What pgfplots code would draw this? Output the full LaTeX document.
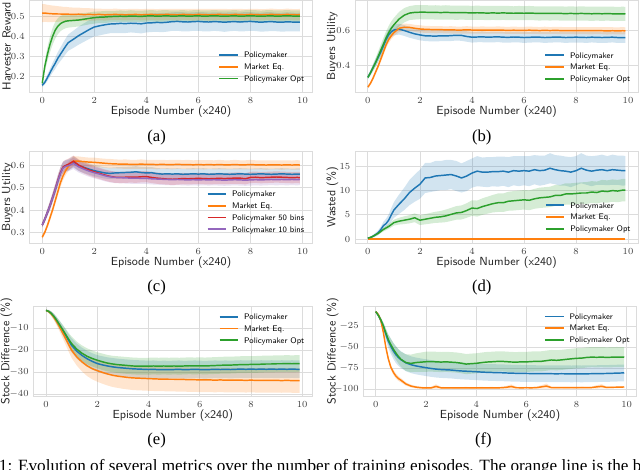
\documentclass[border=0pt]{standalone}
\usepackage{fontspec}
\setmainfont{Liberation Serif}
\usepackage{pgfplots}
\usepackage{pgfplotstable}
\pgfplotsset{compat=1.18}
\usepgfplotslibrary{fillbetween}
\definecolor{tb}{HTML}{1F77B4}
\definecolor{to}{HTML}{FF7F0E}
\definecolor{tg}{HTML}{2CA02C}
\definecolor{tr}{HTML}{D62728}
\definecolor{tp}{HTML}{9467BD}
\definecolor{gridc}{HTML}{DCDCDC}

\pgfplotstableread{
x b bs o os g gs
0.0 .155 .008 .515 .045 .165 .010
0.1 .170 .012 .516 .044 .250 .025
0.2 .193 .016 .514 .043 .310 .035
0.3 .218 .020 .513 .042 .360 .040
0.4 .243 .024 .512 .041 .400 .042
0.5 .265 .028 .512 .040 .430 .042
0.6 .290 .031 .511 .039 .450 .040
0.7 .310 .034 .511 .038 .463 .038
0.8 .330 .037 .510 .037 .470 .036
0.9 .350 .039 .511 .036 .475 .035
1.0 .368 .041 .510 .035 .477 .034
1.2 .385 .043 .509 .034 .479 .033
1.4 .403 .045 .510 .033 .481 .032
1.6 .418 .046 .508 .032 .485 .031
1.8 .433 .047 .509 .031 .489 .030
2.0 .446 .047 .508 .030 .493 .030
2.2 .452 .048 .509 .029 .495 .029
2.4 .457 .047 .507 .029 .496 .030
2.6 .461 .046 .508 .028 .498 .029
2.8 .462 .047 .509 .029 .499 .028
3.0 .464 .048 .508 .028 .500 .029
3.2 .463 .047 .507 .028 .499 .028
3.4 .465 .046 .508 .029 .501 .029
3.6 .464 .047 .509 .028 .500 .028
3.8 .462 .048 .507 .028 .499 .029
4.0 .466 .047 .508 .029 .501 .028
4.2 .467 .046 .509 .028 .502 .029
4.4 .469 .047 .507 .028 .500 .028
4.6 .468 .048 .508 .029 .501 .029
4.8 .470 .047 .509 .028 .502 .028
5.0 .473 .046 .508 .028 .500 .029
5.2 .474 .047 .507 .029 .501 .028
5.4 .472 .048 .509 .028 .502 .029
5.6 .471 .047 .508 .028 .500 .028
5.8 .473 .046 .507 .029 .501 .029
6.0 .474 .047 .509 .028 .502 .028
6.2 .472 .048 .508 .028 .500 .029
6.4 .471 .047 .507 .029 .501 .028
6.6 .473 .046 .508 .028 .502 .029
6.8 .472 .047 .509 .028 .501 .028
7.0 .470 .048 .508 .029 .500 .029
7.2 .472 .047 .507 .028 .501 .028
7.4 .473 .046 .509 .028 .502 .029
7.6 .471 .047 .508 .029 .500 .028
7.8 .473 .048 .507 .028 .501 .029
8.0 .474 .047 .509 .028 .502 .028
8.2 .472 .046 .508 .029 .501 .029
8.4 .470 .047 .507 .028 .500 .028
8.6 .472 .048 .508 .028 .501 .029
8.8 .473 .047 .509 .029 .502 .028
9.0 .471 .046 .508 .028 .500 .029
9.2 .470 .047 .507 .028 .501 .028
9.4 .472 .048 .509 .029 .502 .029
9.6 .471 .047 .508 .028 .501 .028
9.8 .470 .046 .507 .028 .500 .029
9.9 .471 .047 .508 .029 .501 .028
}\TA

\pgfplotstableread{
x b bs o os g gs
0.0 .335 .010 .278 .008 .333 .010
0.1 .360 .014 .300 .010 .360 .015
0.2 .390 .018 .330 .012 .390 .020
0.3 .420 .022 .365 .014 .420 .025
0.4 .450 .025 .400 .016 .455 .030
0.5 .480 .027 .440 .017 .490 .033
0.6 .515 .029 .480 .018 .525 .036
0.7 .550 .030 .520 .019 .560 .038
0.8 .578 .031 .550 .020 .590 .039
0.9 .595 .031 .572 .020 .615 .040
1.0 .605 .031 .590 .020 .635 .040
1.2 .610 .031 .615 .021 .668 .041
1.4 .602 .031 .621 .021 .690 .041
1.6 .592 .031 .620 .020 .702 .040
1.8 .583 .030 .615 .020 .706 .041
2.0 .577 .031 .611 .021 .707 .040
2.2 .572 .030 .609 .020 .707 .041
2.4 .571 .031 .608 .020 .706 .040
2.6 .570 .030 .607 .021 .706 .041
2.8 .572 .031 .607 .020 .705 .040
3.0 .571 .030 .606 .020 .706 .041
3.2 .573 .031 .606 .021 .705 .040
3.4 .575 .030 .605 .020 .704 .041
3.6 .574 .031 .605 .020 .705 .040
3.8 .568 .030 .606 .021 .704 .041
4.0 .564 .031 .605 .020 .703 .040
4.2 .565 .030 .604 .020 .704 .041
4.4 .566 .031 .605 .021 .703 .040
4.6 .564 .030 .604 .020 .702 .041
4.8 .565 .031 .604 .020 .703 .040
5.0 .566 .030 .605 .021 .702 .041
5.2 .564 .031 .604 .020 .703 .040
5.4 .563 .030 .603 .020 .702 .041
5.6 .565 .031 .604 .021 .701 .040
5.8 .564 .030 .603 .020 .702 .041
6.0 .562 .031 .603 .020 .701 .040
6.2 .563 .030 .604 .021 .702 .041
6.4 .565 .031 .603 .020 .701 .040
6.6 .564 .030 .602 .020 .700 .041
6.8 .562 .031 .603 .021 .701 .040
7.0 .563 .030 .602 .020 .700 .041
7.2 .565 .031 .603 .020 .701 .040
7.4 .564 .030 .602 .021 .700 .041
7.6 .562 .031 .601 .020 .699 .040
7.8 .563 .030 .602 .020 .700 .041
8.0 .564 .031 .601 .021 .699 .040
8.2 .563 .030 .602 .020 .700 .041
8.4 .562 .031 .601 .020 .699 .040
8.6 .564 .030 .601 .021 .698 .041
8.8 .563 .031 .602 .020 .699 .040
9.0 .562 .030 .601 .020 .698 .041
9.2 .563 .031 .600 .021 .699 .040
9.4 .564 .030 .601 .020 .698 .041
9.6 .562 .031 .600 .020 .697 .040
9.8 .562 .030 .601 .021 .698 .041
9.9 .562 .031 .600 .020 .697 .040
}\TB

\pgfplotstableread{
x b bs o os r rs p ps
0.0 .334 .010 .280 .008 .334 .010 .334 .010
0.1 .360 .013 .302 .010 .360 .013 .360 .013
0.2 .390 .016 .332 .012 .390 .016 .390 .016
0.3 .420 .019 .367 .014 .421 .019 .421 .019
0.4 .455 .021 .402 .016 .456 .021 .456 .021
0.5 .490 .023 .442 .017 .492 .023 .491 .023
0.6 .530 .024 .482 .018 .532 .024 .530 .024
0.7 .565 .025 .522 .019 .566 .025 .563 .025
0.8 .590 .025 .552 .020 .591 .025 .587 .025
0.9 .597 .025 .575 .020 .598 .025 .594 .025
1.0 .600 .025 .593 .020 .603 .025 .597 .025
1.2 .614 .025 .618 .020 .617 .025 .607 .025
1.4 .598 .025 .617 .021 .600 .025 .592 .025
1.6 .590 .025 .615 .020 .588 .025 .582 .025
1.8 .582 .025 .613 .020 .578 .025 .573 .025
2.0 .575 .025 .612 .021 .570 .025 .566 .025
2.2 .570 .025 .610 .020 .563 .025 .560 .025
2.4 .565 .025 .608 .020 .556 .025 .553 .025
2.6 .563 .025 .606 .021 .550 .025 .548 .025
2.8 .565 .025 .605 .020 .546 .025 .545 .025
3.0 .566 .025 .604 .020 .545 .025 .544 .025
3.2 .567 .025 .604 .021 .546 .025 .543 .025
3.4 .568 .025 .603 .020 .547 .025 .542 .025
3.6 .570 .025 .603 .020 .546 .025 .542 .025
3.8 .567 .025 .604 .021 .548 .025 .541 .025
4.0 .565 .025 .603 .020 .549 .025 .541 .025
4.2 .566 .025 .603 .020 .545 .025 .539 .025
4.4 .562 .025 .602 .021 .542 .025 .538 .025
4.6 .560 .025 .603 .020 .540 .025 .537 .025
4.8 .561 .025 .602 .020 .538 .025 .536 .025
5.0 .560 .025 .602 .021 .537 .025 .535 .025
5.2 .561 .025 .603 .020 .538 .025 .536 .025
5.4 .559 .025 .602 .020 .540 .025 .535 .025
5.6 .560 .025 .602 .021 .539 .025 .534 .025
5.8 .561 .025 .601 .020 .540 .025 .535 .025
6.0 .560 .025 .602 .020 .541 .025 .534 .025
6.2 .561 .025 .601 .021 .540 .025 .535 .025
6.4 .559 .025 .602 .020 .539 .025 .534 .025
6.6 .560 .025 .601 .020 .540 .025 .535 .025
6.8 .561 .025 .602 .021 .541 .025 .534 .025
7.0 .560 .025 .601 .020 .540 .025 .533 .025
7.2 .559 .025 .601 .020 .541 .025 .534 .025
7.4 .560 .025 .602 .021 .542 .025 .535 .025
7.6 .561 .025 .601 .020 .542 .025 .534 .025
7.8 .560 .025 .601 .020 .539 .025 .533 .025
8.0 .559 .025 .602 .021 .545 .025 .534 .025
8.2 .560 .025 .601 .020 .546 .025 .535 .025
8.4 .561 .025 .601 .020 .544 .025 .534 .025
8.6 .560 .025 .600 .021 .545 .025 .535 .025
8.8 .559 .025 .601 .020 .546 .025 .536 .025
9.0 .560 .025 .601 .020 .547 .025 .535 .025
9.2 .561 .025 .600 .021 .546 .025 .536 .025
9.4 .560 .025 .601 .020 .545 .025 .535 .025
9.6 .559 .025 .600 .020 .544 .025 .536 .025
9.8 .560 .025 .601 .021 .545 .025 .535 .025
9.9 .560 .025 .600 .020 .544 .025 .536 .025
}\TC

\pgfplotstableread{
x b bs o os g gs
0.0 0.2 0.1 0 0.05 0.2 0.1
0.1 0.35 0.2 0 0.05 0.35 0.15
0.2 0.6 0.3 0 0.05 0.6 0.2
0.3 0.95 0.4 0 0.05 0.9 0.25
0.4 1.35 0.5 0 0.05 1.2 0.3
0.5 2.0 0.6 0 0.05 1.6 0.35
0.6 2.8 0.8 0 0.05 2.0 0.4
0.7 3.2 1.0 0 0.05 2.3 0.45
0.8 3.9 1.2 0 0.05 2.6 0.5
0.9 5.0 1.4 0 0.05 3.0 0.55
1.0 6.0 1.6 0 0.05 3.4 0.6
1.2 7.2 2.0 0 0.05 3.7 0.7
1.4 8.3 2.3 0 0.05 3.9 0.8
1.6 9.6 2.6 0 0.05 4.1 0.85
1.8 10.5 2.8 0 0.05 4.4 0.9
2.0 11.3 3.0 0 0.05 3.9 1.0
2.2 12.6 3.1 0 0.05 4.1 1.05
2.4 12.7 3.0 0 0.05 4.3 1.1
2.6 13.0 3.1 0 0.05 4.5 1.15
2.8 13.1 3.0 0 0.05 4.6 1.2
3.0 13.2 3.1 0 0.05 4.8 1.3
3.2 13.3 3.0 0 0.05 5.1 1.35
3.4 13.0 3.1 0 0.05 5.4 1.4
3.6 12.6 3.0 0 0.05 5.5 1.45
3.8 13.0 3.1 0 0.05 5.9 1.5
4.0 13.6 3.0 0 0.05 6.4 1.6
4.2 14.0 3.1 0 0.05 6.3 1.65
4.4 13.8 3.0 0 0.05 6.7 1.7
4.6 13.8 3.1 0 0.05 7.0 1.75
4.8 13.9 3.0 0 0.05 7.3 1.8
5.0 13.9 3.1 0 0.05 7.5 1.9
5.2 14.0 3.0 0 0.05 7.5 1.9
5.4 13.8 3.1 0 0.05 7.8 1.95
5.6 14.1 3.0 0 0.05 7.9 2.0
5.8 14.0 3.1 0 0.05 8.0 2.0
6.0 14.1 3.0 0 0.05 8.1 2.0
6.2 14.0 3.1 0 0.05 8.0 2.05
6.4 14.3 3.0 0 0.05 8.3 2.05
6.6 14.1 3.1 0 0.05 8.5 2.1
6.8 14.2 3.0 0 0.05 8.6 2.1
7.0 14.6 3.1 0 0.05 8.7 2.1
7.2 14.3 3.0 0 0.05 9.0 2.15
7.4 14.1 3.1 0 0.05 9.0 2.15
7.6 14.0 3.0 0 0.05 9.3 2.2
7.8 13.8 3.1 0 0.05 9.3 2.2
8.0 14.1 3.0 0 0.05 9.4 2.2
8.2 14.6 3.1 0 0.05 9.5 2.2
8.4 14.2 3.0 0 0.05 9.5 2.25
8.6 14.0 3.1 0 0.05 9.7 2.25
8.8 14.2 3.0 0 0.05 9.6 2.25
9.0 14.3 3.1 0 0.05 9.9 2.3
9.2 14.1 3.0 0 0.05 9.8 2.3
9.4 14.3 3.1 0 0.05 10.0 2.3
9.6 14.2 3.0 0 0.05 9.9 2.3
9.8 14.1 3.1 0 0.05 10.1 2.3
9.9 14.1 3.0 0 0.05 10.1 2.3
}\TD

\pgfplotstableread{
x b bs o os g gs
0.0 -2.0 0.3 -2.0 0.3 -2.0 0.3
0.1 -2.4 0.6 -2.5 0.6 -2.4 0.6
0.2 -3.3 0.9 -3.5 1.0 -3.3 0.9
0.3 -4.6 1.2 -5.0 1.3 -4.6 1.2
0.4 -6.2 1.5 -6.8 1.6 -6.2 1.5
0.5 -8.0 1.8 -8.8 1.9 -8.0 1.8
0.6 -9.9 2.1 -11.0 2.3 -9.8 2.1
0.7 -11.9 2.4 -13.2 2.6 -11.6 2.4
0.8 -13.9 2.7 -15.5 2.9 -13.5 2.7
0.9 -15.9 2.9 -17.8 3.2 -15.3 2.9
1.0 -17.8 3.2 -20.0 3.5 -17.0 3.2
1.2 -20.4 3.4 -23.0 3.9 -19.5 3.4
1.4 -22.3 3.5 -25.2 4.3 -21.3 3.5
1.6 -23.8 3.6 -27.0 4.6 -22.7 3.6
1.8 -25.0 3.7 -28.3 4.8 -23.7 3.6
2.0 -26.0 3.8 -29.2 5.0 -24.5 3.6
2.2 -26.6 3.9 -30.0 5.1 -25.2 3.7
2.4 -27.1 3.9 -30.7 5.2 -25.8 3.7
2.6 -27.5 4.0 -31.3 5.3 -26.2 3.7
2.8 -27.8 4.0 -31.7 5.3 -26.5 3.8
3.0 -28.0 4.0 -32.0 5.4 -26.7 3.8
3.2 -28.2 4.0 -32.3 5.4 -26.9 3.8
3.4 -28.4 4.0 -32.5 5.5 -27.1 3.8
3.6 -28.5 4.0 -32.6 5.5 -27.2 3.8
3.8 -28.6 4.0 -32.7 5.5 -27.2 3.8
4.0 -28.7 4.0 -32.8 5.5 -27.2 3.8
4.2 -28.6 4.0 -32.9 5.5 -27.1 3.8
4.4 -28.8 4.0 -33.0 5.5 -27.2 3.8
4.6 -28.7 4.0 -33.0 5.5 -27.1 3.8
4.8 -28.8 4.0 -33.1 5.5 -27.2 3.8
5.0 -28.7 4.0 -33.1 5.5 -27.1 3.8
5.2 -28.6 4.0 -33.2 5.5 -27.2 3.8
5.4 -28.8 4.0 -33.2 5.5 -27.1 3.8
5.6 -28.7 4.0 -33.3 5.5 -27.0 3.8
5.8 -28.6 4.0 -33.3 5.5 -27.1 3.8
6.0 -28.7 4.0 -33.4 5.5 -27.0 3.8
6.2 -28.8 4.0 -33.4 5.5 -27.1 3.8
6.4 -28.7 4.0 -33.4 5.5 -27.0 3.8
6.6 -28.6 4.0 -33.5 5.5 -26.9 3.8
6.8 -28.7 4.0 -33.4 5.5 -26.8 3.8
7.0 -28.6 4.0 -33.5 5.5 -26.7 3.8
7.2 -28.7 4.0 -33.5 5.5 -26.7 3.8
7.4 -28.6 4.0 -33.5 5.5 -26.6 3.8
7.6 -28.5 4.0 -33.5 5.5 -26.5 3.8
7.8 -28.6 4.0 -33.6 5.5 -26.5 3.8
8.0 -28.5 4.0 -33.5 5.5 -26.4 3.8
8.2 -28.6 4.0 -33.6 5.5 -26.4 3.8
8.4 -28.5 4.0 -33.6 5.5 -26.3 3.8
8.6 -28.6 4.0 -33.6 5.5 -26.2 3.8
8.8 -28.5 4.0 -33.6 5.5 -26.2 3.8
9.0 -28.6 4.0 -33.6 5.5 -26.1 3.8
9.2 -28.5 4.0 -33.7 5.5 -26.1 3.8
9.4 -28.6 4.0 -33.6 5.5 -26.0 3.8
9.6 -28.5 4.0 -33.7 5.5 -26.1 3.8
9.8 -28.6 4.0 -33.7 5.5 -26.0 3.8
9.9 -28.6 4.0 -33.7 5.5 -26.0 3.8
}\TE

\pgfplotstableread{
x b bs o os g gs
0.0 -7.7 1.0 -7.7 0.5 -7.7 1.0
0.1 -12.0 2.0 -11.0 1.0 -12.0 2.0
0.2 -18.0 3.5 -18.0 1.5 -17.5 3.0
0.3 -25.5 5.0 -32.0 2.0 -24.5 4.0
0.4 -34.5 6.5 -50.0 2.5 -33.0 5.0
0.5 -43.0 8.0 -64.0 3.0 -41.0 6.0
0.6 -49.0 9.0 -74.0 3.0 -47.0 7.0
0.7 -54.5 9.5 -80.0 3.0 -52.5 7.5
0.8 -59.0 10.0 -84.5 3.0 -57.0 8.0
0.9 -62.3 10.0 -87.5 2.8 -61.0 8.5
1.0 -65.0 10.0 -89.5 2.5 -64.5 9.0
1.2 -68.8 10.0 -94.0 2.0 -68.5 10.0
1.4 -71.0 10.0 -96.5 1.7 -69.5 10.5
1.6 -72.5 10.0 -97.8 1.5 -68.5 11.0
1.8 -73.6 10.0 -98.5 1.3 -68.0 11.5
2.0 -74.6 10.0 -98.8 1.2 -67.5 12.0
2.2 -75.5 10.0 -98.7 1.2 -67.3 12.0
2.4 -76.3 10.0 -97.0 2.5 -67.6 12.0
2.6 -76.8 10.0 -98.6 1.2 -67.9 12.0
2.8 -77.1 10.0 -98.8 1.0 -67.6 12.0
3.0 -77.4 10.0 -98.7 1.0 -68.0 12.0
3.2 -78.0 10.0 -98.8 1.0 -68.4 12.0
3.4 -78.5 10.0 -98.7 1.0 -69.2 12.0
3.6 -78.8 10.0 -98.6 1.0 -70.3 12.0
3.8 -79.1 10.0 -98.8 1.0 -69.8 12.0
4.0 -79.4 10.0 -98.7 1.0 -69.4 12.0
4.2 -79.8 10.0 -98.6 1.0 -68.6 12.0
4.4 -80.1 10.0 -98.7 1.0 -67.9 12.0
4.6 -80.3 10.0 -98.6 1.0 -67.6 12.0
4.8 -80.5 10.0 -98.7 1.0 -67.2 12.0
5.0 -80.6 10.0 -98.5 1.0 -67.0 12.0
5.2 -80.9 10.0 -98.0 1.5 -67.4 12.0
5.4 -81.1 10.0 -97.0 2.5 -67.8 12.0
5.6 -81.3 10.0 -98.5 1.0 -68.0 12.0
5.8 -81.4 10.0 -98.6 1.0 -67.6 12.0
6.0 -81.5 10.0 -98.5 1.0 -67.7 12.0
6.2 -81.6 10.0 -98.6 1.0 -67.3 12.0
6.4 -81.7 10.0 -98.4 1.0 -67.0 12.0
6.6 -81.8 10.0 -97.5 2.0 -67.0 12.0
6.8 -81.7 10.0 -96.5 3.0 -66.2 12.0
7.0 -81.8 10.0 -98.4 1.0 -65.4 12.0
7.2 -81.9 10.0 -98.5 1.0 -65.8 12.0
7.4 -81.8 10.0 -98.4 1.0 -65.3 12.0
7.6 -81.9 10.0 -98.5 1.0 -64.6 12.0
7.8 -82.0 10.0 -98.4 1.0 -64.0 12.0
8.0 -81.9 10.0 -98.5 1.0 -63.4 12.0
8.2 -82.0 10.0 -98.3 1.0 -63.2 12.0
8.4 -81.9 10.0 -98.4 1.0 -62.4 12.0
8.6 -81.8 10.0 -98.3 1.0 -62.0 12.0
8.8 -81.7 10.0 -97.5 2.0 -62.2 12.0
9.0 -81.6 10.0 -96.8 2.5 -62.0 12.0
9.2 -81.5 10.0 -98.2 1.0 -62.3 12.0
9.4 -81.3 10.0 -98.0 1.0 -62.1 12.0
9.6 -81.1 10.0 -97.9 1.0 -61.9 12.0
9.8 -80.9 10.0 -97.7 1.0 -62.0 12.0
9.9 -80.8 10.0 -97.6 1.0 -62.1 12.0
}\TF

\newcommand\band[4]{%
  \addplot[draw=none, forget plot, name path=U#4] table[x=x, y expr=\thisrow{#2}+\thisrow{#2s}] {#1};
  \addplot[draw=none, forget plot, name path=L#4] table[x=x, y expr=\thisrow{#2}-\thisrow{#2s}] {#1};
  \addplot[fill=#3, fill opacity=0.2, draw=none, forget plot] fill between[of=U#4 and L#4];
}
% legend key drawn as a coloured TeX rule inside the entry text
\newcommand\lk[1]{\textcolor{#1}{\rule[1.5pt]{14pt}{1.3pt}}\hspace{4.5pt}}

\pgfplotsset{
  legend image code/.code={},
  panel/.style={
    scale only axis,
    xmin=-0.495, xmax=10.395, xtick={0,2,4,6,8,10},
    grid=major, major grid style={line width=0.6pt, color=gridc},
    axis line style={line width=0.6pt, color=gridc},
    major tick length=0pt, tick style={draw=none},
    tick label style={font=\fontsize{6.8}{8}\selectfont, text=black!75},
    label style={font=\fontsize{8.8}{10}\selectfont\sffamily, text=black!85, inner sep=0pt},
    xlabel={Episode Number (x240)},
    xlabel style={at={(axis description cs:0.5,-0.206)}, anchor=center},
    legend cell align=left,
    legend style={draw=none, fill=none, inner sep=0pt, row sep=2pt,
      font=\fontsize{6.1}{7}\selectfont\sffamily,
      nodes={inner sep=0.5pt, text height=4.5pt, text depth=1.3pt},
      /tikz/every odd column/.append style={column sep=0pt}},
    every axis plot/.append style={line width=1.1pt},
  },
  ylab/.style={ylabel style={at={(axis description cs:#1,0.5)}, anchor=center}},
}

\begin{document}
\begin{tikzpicture}[x=1pt,y=1pt]

% (a)
\begin{axis}[panel, at={(22pt,283.1pt)}, anchor=south west, width=212.6pt, height=69.4pt,
  ymin=0.119, ymax=0.581, ytick={0.2,0.3,0.4,0.5}, ylabel={Harvester Reward}, ylab=-0.08,
  legend style={at={(0.973,0.092)}, anchor=south east}]
\band{\TA}{b}{tb}{ab}
\band{\TA}{o}{to}{ao}
\band{\TA}{g}{tg}{ag}
\addplot[draw=tb] table[x=x,y=b] {\TA}; \addlegendentry{\lk{tb}Policymaker}
\addplot[draw=to] table[x=x,y=o] {\TA}; \addlegendentry{\lk{to}Market Eq.}
\addplot[draw=tg] table[x=x,y=g] {\TA}; \addlegendentry{\lk{tg}Policymaker Opt}
\end{axis}

% (b)
\begin{axis}[panel, at={(266.25pt,283.1pt)}, anchor=south west, width=212.5pt, height=69.4pt,
  ymin=0.247, ymax=0.777, ytick={0.4,0.6}, ylabel={Buyers Utility}, ylab=-0.08,
  legend style={at={(0.975,0.09)}, anchor=south east}]
\band{\TB}{b}{tb}{bb}
\band{\TB}{o}{to}{bo}
\band{\TB}{g}{tg}{bg}
\addplot[draw=tb] table[x=x,y=b] {\TB}; \addlegendentry{\lk{tb}Policymaker}
\addplot[draw=to] table[x=x,y=o] {\TB}; \addlegendentry{\lk{to}Market Eq.}
\addplot[draw=tg] table[x=x,y=g] {\TB}; \addlegendentry{\lk{tg}Policymaker Opt}
\end{axis}

% (c)
\begin{axis}[panel, at={(22pt,170pt)}, anchor=south west, width=212.6pt, height=68.7pt,
  ymin=0.253, ymax=0.659, ytick={0.3,0.4,0.5,0.6}, ylabel={Buyers Utility}, ylab=-0.078,
  legend style={at={(0.973,0.094)}, anchor=south east}]
\band{\TC}{b}{tb}{cb}
\band{\TC}{o}{to}{co}
\band{\TC}{r}{tr}{cr}
\band{\TC}{p}{tp}{cp}
\addplot[draw=tb] table[x=x,y=b] {\TC}; \addlegendentry{\lk{tb}Policymaker}
\addplot[draw=to] table[x=x,y=o] {\TC}; \addlegendentry{\lk{to}Market Eq.}
\addplot[draw=tr] table[x=x,y=r] {\TC}; \addlegendentry{\lk{tr}Policymaker 50 bins}
\addplot[draw=tp] table[x=x,y=p] {\TC}; \addlegendentry{\lk{tp}Policymaker 10 bins}
\end{axis}

% (d)
\begin{axis}[panel, at={(266.25pt,170pt)}, anchor=south west, width=212.5pt, height=68.7pt,
  ymin=-0.86, ymax=18.0, ytick={0,5,10,15}, ylabel={Wasted (\%)}, ylab=-0.08,
  legend style={at={(0.976,0.098)}, anchor=south east}]
\band{\TD}{b}{tb}{db}
\band{\TD}{o}{to}{do}
\band{\TD}{g}{tg}{dg}
\addplot[draw=tb] table[x=x,y=b] {\TD}; \addlegendentry{\lk{tb}Policymaker}
\addplot[draw=to] table[x=x,y=o] {\TD}; \addlegendentry{\lk{to}Market Eq.}
\addplot[draw=tg] table[x=x,y=g] {\TD}; \addlegendentry{\lk{tg}Policymaker Opt}
\end{axis}

% (e)
\begin{axis}[panel, at={(25pt,55.1pt)}, anchor=south west, width=209.2pt, height=67.9pt,
  ymin=-40.9, ymax=0, ytick={-40,-30,-20,-10}, ylabel={Stock Difference (\%)}, ylab=-0.096,
  legend style={at={(0.975,0.927)}, anchor=north east}]
\band{\TE}{b}{tb}{eb}
\band{\TE}{o}{to}{eo}
\band{\TE}{g}{tg}{eg}
\addplot[draw=tb] table[x=x,y=b] {\TE}; \addlegendentry{\lk{tb}Policymaker}
\addplot[draw=to] table[x=x,y=o] {\TE}; \addlegendentry{\lk{to}Market Eq.}
\addplot[draw=tg] table[x=x,y=g] {\TE}; \addlegendentry{\lk{tg}Policymaker Opt}
\end{axis}

% (f)
\begin{axis}[panel, at={(272.5pt,55.1pt)}, anchor=south west, width=205pt, height=67.9pt,
  ymin=-109, ymax=-1, ytick={-100,-75,-50,-25}, ylabel={Stock Difference (\%)}, ylab=-0.112,
  legend style={at={(0.978,0.93)}, anchor=north east}]
\band{\TF}{b}{tb}{fb}
\band{\TF}{o}{to}{fo}
\band{\TF}{g}{tg}{fg}
\addplot[draw=tb] table[x=x,y=b] {\TF}; \addlegendentry{\lk{tb}Policymaker}
\addplot[draw=to] table[x=x,y=o] {\TF}; \addlegendentry{\lk{to}Market Eq.}
\addplot[draw=tg] table[x=x,y=g] {\TF}; \addlegendentry{\lk{tg}Policymaker Opt}
\end{axis}

\begin{scope}[every node/.style={font=\fontsize{12.5}{14}\selectfont, inner sep=0pt}]
\node at (117.5,249.2) {(a)};
\node at (361.3,249.2) {(b)};
\node at (117.5,137.2) {(c)};
\node at (361.3,137.2) {(d)};
\node at (117.5,22.5) {(e)};
\node at (362.5,22.5) {(f)};
\end{scope}
\node[anchor=base west, inner sep=0pt, font=\fontsize{12.9}{15}\selectfont] at (-1,-1.1)
  {1: Evolution of several metrics over the number of training episodes. The orange line is the baseline};
\pgfresetboundingbox
\path[use as bounding box] (0,0) rectangle (480,352.5);
\end{tikzpicture}
\end{document}
